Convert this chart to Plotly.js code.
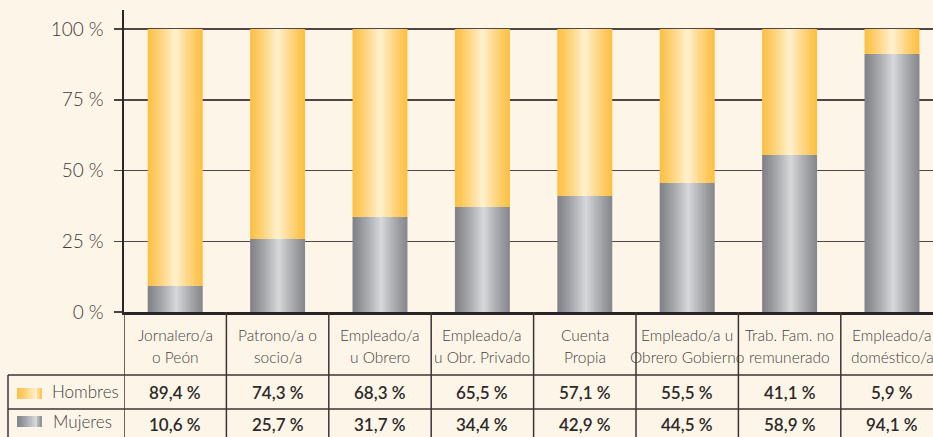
<!DOCTYPE html>
<html><head><meta charset="utf-8">
<script src="https://cdn.plot.ly/plotly-3.0.1.min.js"></script>
<style>html,body{margin:0;padding:0;background:#fdf6e8;overflow:hidden;} #chart{width:933px;height:437px;}</style>
</head><body><div id="chart"></div>
<script>
// ---- data ----
const categories = ["Jornalero/a<br>o Peón", "Patrono/a o<br>socio/a", "Empleado/a<br>u Obrero", "Empleado/a<br>u Obr. Privado", "Cuenta<br>Propia", "Empleado/a u<br>Obrero Gobierno", "Trab. Fam. no<br>remunerado", "Empleado/a<br>doméstico/a"];
const barMujeres = [9.3, 25.8, 33.6, 37.1, 41.0, 45.6, 55.5, 91.2];
const barHombres = [90.7, 74.2, 66.4, 62.9, 59.0, 54.4, 44.5, 8.8];
const tablaHombres = ["89,4 %", "74,3 %", "68,3 %", "65,5 %", "57,1 %", "55,5 %", "41,1 %", "5,9 %"];
const tablaMujeres = ["10,6 %", "25,7 %", "31,7 %", "34,4 %", "42,9 %", "44,5 %", "58,9 %", "94,1 %"];
const seriesNames = ["Hombres", "Mujeres"];
const yTicks = [0, 25, 50, 75, 100];
const yTickLabels = ["0 %", "25 %", "50 %", "75 %", "100 %"];

// ---- layout helpers (pixel geometry) ----
const W = 933, H = 437, L = 124, T = 10, B = 125;
const plotW = W - L, plotH = H - T - B;
const px = x => (x - L) / plotW;
const py = y => (H - B - y) / plotH;

const yellowL = [252, 191, 66], yellowC = [255, 241, 208], yellowR = [252, 191, 66];
const grayL = [128, 130, 135], grayC = [215, 216, 218], grayR = [134, 136, 141];
function grad(t, a, c, b, peak) {
  let k, e;
  if (t < peak) { k = t / peak; e = a; } else { k = (1 - t) / (1 - peak); e = b; }
  k = Math.pow(k, 1.15);
  const r = e.map((v, i) => Math.round(v + (c[i] - v) * k));
  return `rgb(${r[0]},${r[1]},${r[2]})`;
}

const xs = categories.map((c, i) => i);
const barW = 0.537, N = 28, step = barW / N;
const traces = [];
function addSeries(name, y, base, cl, cc, cr, peak) {
  for (let s = 0; s < N; s++) {
    const off = -barW / 2 + s * step;
    const w = s === N - 1 ? step : step * 1.7;
    traces.push({
      type: 'bar', x: xs, y: y, base: base, name: name,
      offset: off, width: Math.min(w, barW / 2 - off),
      marker: { color: grad((s + 0.5) / N, cl, cc, cr, peak), line: { width: 0 } },
      hoverinfo: 'skip', showlegend: false
    });
  }
}
addSeries(seriesNames[1], barMujeres, 0, grayL, grayC, grayR, 0.52);
addSeries(seriesNames[0], barHombres, barMujeres, yellowL, yellowC, yellowR, 0.5);

const lineC = '#3b3434';
const shapes = [];
for (let i = 0; i <= categories.length; i++) {
  shapes.push({ type: 'line', xref: 'x', yref: 'paper', x0: i - 0.5, x1: i - 0.5, y0: py(312), y1: py(H + 5), line: { color: lineC, width: 1.5 } });
}
shapes.push({ type: 'line', xref: 'paper', yref: 'paper', x0: px(8), x1: px(8), y0: py(375), y1: py(H + 5), line: { color: lineC, width: 1.5 } });
[375, 409].forEach(yy => shapes.push({ type: 'line', xref: 'paper', yref: 'paper', x0: px(8), x1: 1.05, y0: py(yy), y1: py(yy), line: { color: lineC, width: 1.5 } }));
// legend swatches
function swatch(y0, y1, cl, cc, cr, peak) {
  const n = 10, x0 = 17, x1 = 42, st = (x1 - x0) / n;
  for (let s = 0; s < n; s++) {
    shapes.push({ type: 'rect', xref: 'paper', yref: 'paper', x0: px(x0 + s * st), x1: px(x0 + (s + 1) * st + (s < n - 1 ? 0.6 : 0)), y0: py(y1), y1: py(y0), line: { width: 0 }, fillcolor: grad((s + 0.5) / n, cl, cc, cr, peak) });
  }
}
swatch(388, 399, yellowL, yellowC, yellowR, 0.75);
swatch(416, 427, grayL, grayC, grayR, 0.75);

const fontFam = 'Lato, "Open Sans", sans-serif';
const annotations = [];
categories.forEach((c, i) => {
  c.split('<br>').forEach((line, j) => {
    annotations.push({ xref: 'x', yref: 'paper', x: i, y: py(335 + j * 21.5), text: line, showarrow: false, xanchor: 'center', yanchor: 'middle', font: { family: fontFam, size: 15.5, color: '#453f3f', weight: 300 } });
  });
  annotations.push({ xref: 'x', yref: 'paper', x: i, y: py(392), text: tablaHombres[i], showarrow: false, xanchor: 'center', yanchor: 'middle', font: { family: fontFam, size: 17, color: '#2d2929', weight: 600 } });
  annotations.push({ xref: 'x', yref: 'paper', x: i, y: py(424), text: tablaMujeres[i], showarrow: false, xanchor: 'center', yanchor: 'middle', font: { family: fontFam, size: 17, color: '#2d2929', weight: 600 } });
});
annotations.push({ xref: 'paper', yref: 'paper', x: px(50), y: py(391), text: seriesNames[0], showarrow: false, xanchor: 'left', yanchor: 'middle', font: { family: fontFam, size: 17, color: '#453f3f', weight: 300 } });
annotations.push({ xref: 'paper', yref: 'paper', x: px(51), y: py(422), text: seriesNames[1], showarrow: false, xanchor: 'left', yanchor: 'middle', font: { family: fontFam, size: 17, color: '#453f3f', weight: 300 } });

const layout = {
  width: W, height: H,
  margin: { l: L, r: 0, t: T, b: B, pad: 0 },
  paper_bgcolor: '#fdf6e8', plot_bgcolor: '#fdf6e8',
  barmode: 'overlay', showlegend: false,
  xaxis: { range: [-0.5, -0.5 + plotW / 102.4], showgrid: false, zeroline: false, showticklabels: false, ticks: '', showline: true, linecolor: '#2b2525', linewidth: 2.5, fixedrange: true },
  yaxis: { range: [0, 100 * plotH / 283], tickvals: yTicks, ticktext: yTickLabels, ticks: 'outside', ticklen: 8, tickwidth: 1.5, tickcolor: '#4a4242', ticklabelstandoff: 6,
    showgrid: true, gridcolor: '#504646', gridwidth: 1.5, zeroline: false, showline: true, linecolor: '#2b2525', linewidth: 2.5,
    tickfont: { family: fontFam, size: 19, color: '#413b3b', weight: 300 }, fixedrange: true },
  shapes: shapes, annotations: annotations
};
Plotly.newPlot('chart', traces, layout, { displayModeBar: false, staticPlot: true });
</script></body></html>
